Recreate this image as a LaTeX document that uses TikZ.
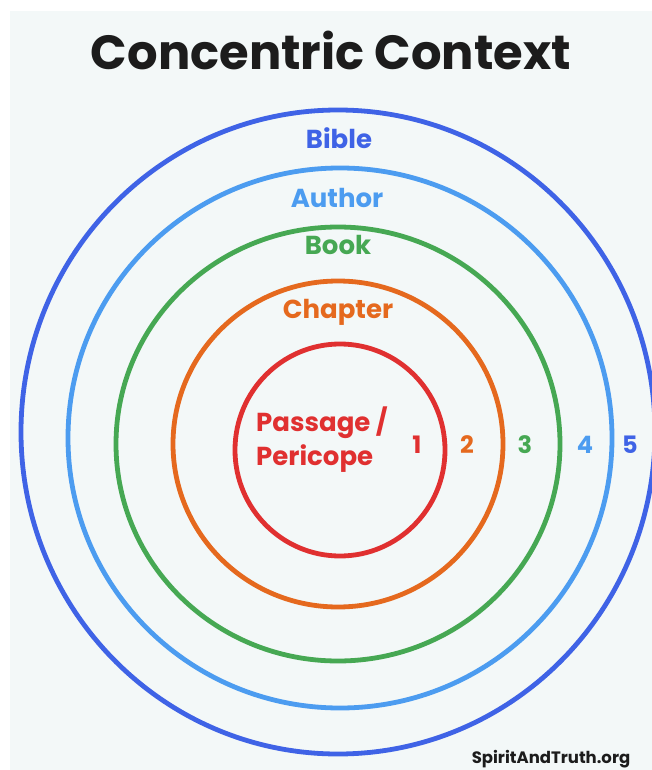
\documentclass[tikz,border=0pt]{standalone}
\usepackage{fontspec}
\newfontfamily\hand{Poppins}
\definecolor{panel}{HTML}{F3F8F8}
\definecolor{cBible}{HTML}{3F63E6}
\definecolor{cAuthor}{HTML}{4C9CF0}
\definecolor{cBook}{HTML}{46A853}
\definecolor{cChapter}{HTML}{E5691E}
\definecolor{cPassage}{HTML}{E03030}
\definecolor{ink}{HTML}{1C1C1C}
\begin{document}
\begin{tikzpicture}[x=1pt,y=-1pt,
  ring/.style={line width=4.8pt},
  lbl/.style={font=\hand\bfseries\fontsize{26}{26}\selectfont, inner sep=0pt},
  num/.style={font=\hand\bfseries\fontsize{24}{24}\selectfont, inner sep=0pt}]
  \useasboundingbox (0,0) rectangle (652,770);
  \clip (0,0) rectangle (652,770);
  % backdrop panel
  \fill[panel] (10,11) rectangle (652,770);

  % title
  \node[font=\hand\bfseries\fontsize{48}{48}\selectfont, text=ink, inner sep=0pt] (title) at (331,50) {Concentric Context};

  % the five nested rings, outermost first
  \draw[ring, cBible]   (338,432) ellipse [x radius=317, y radius=322];
  \draw[ring, cAuthor]  (340,438) ellipse [x radius=272, y radius=270];
  \draw[ring, cBook]    (338,444) ellipse [x radius=222, y radius=217];
  \draw[ring, cChapter] (338,444) ellipse [x radius=165, y radius=163];
  \draw[ring, cPassage] (340,450) ellipse [x radius=105, y radius=106];

  % ring names
  \node[lbl, text=cBible]   (bible)   at (339,138) {Bible};
  \node[lbl, text=cAuthor]  (author)  at (337,198) {Author};
  \node[lbl, text=cBook]    (book)    at (338,245) {Book};
  \node[lbl, text=cChapter] (chapter) at (338,312) {Chapter};
  \node[lbl, text=cPassage, anchor=west] (passage)  at (256,423) {Passage /};
  \node[lbl, text=cPassage, anchor=west] (pericope) at (256,459) {Pericope};

  % ring numbers
  \node[num, text=cPassage] (n1) at (417,445) {1};
  \node[num, text=cChapter] (n2) at (467,445) {2};
  \node[num, text=cBook]    (n3) at (525,445) {3};
  \node[num, text=cAuthor]  (n4) at (585,445) {4};
  \node[num, text=cBible]   (n5) at (630,445) {5};

  % credit line
  \node[font=\hand\bfseries\fontsize{16.5}{16.5}\selectfont, text=ink, inner sep=0pt, anchor=base] (credit) at (551,763) {SpiritAndTruth.org};
\end{tikzpicture}
\end{document}
